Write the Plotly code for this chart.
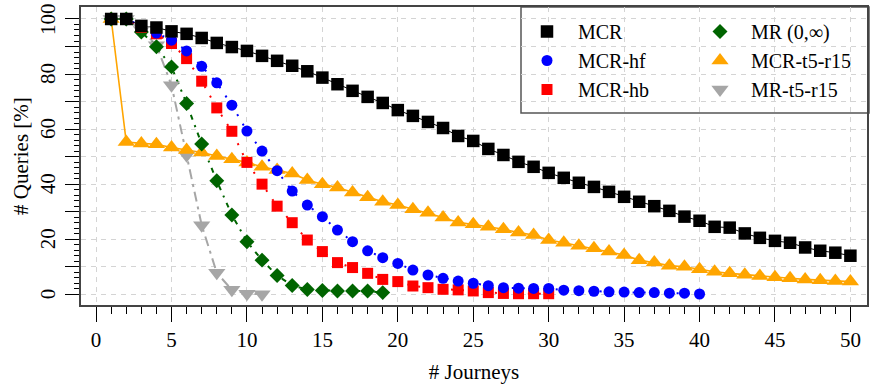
import plotly.graph_objects as go

# ---------------- data ----------------
x_mcr = list(range(1, 51))
mcr = [100, 100, 97.5, 96.9, 95.5, 94.6, 93.1, 91.3, 89.8, 88.4,
       86.6, 84.8, 83.0, 81.0, 78.7, 76.3, 73.9, 71.7, 69.5, 66.9,
       64.8, 62.6, 60.4, 57.5, 55.7, 52.8, 50.6, 48.1, 46.3, 44.1,
       42.3, 40.5, 39.0, 37.2, 35.4, 33.6, 32.0, 30.3, 28.2, 26.7,
       24.5, 24.2, 22.1, 20.5, 19.4, 18.7, 17.0, 15.8, 15.1, 14.0]

x_hf = list(range(1, 41))
mcr_hf = [100, 100, 97.5, 94.9, 92.3, 88.4, 82.8, 76.8, 68.7, 59.3,
          52.0, 44.9, 37.5, 32.4, 28.2, 23.3, 19.1, 15.8, 13.3, 11.2,
          8.8, 7.0, 5.8, 4.8, 4.0, 3.1, 2.4, 2.2, 2.1, 2.1,
          1.5, 1.3, 1.1, 0.9, 0.8, 0.6, 0.6, 0.4, 0.4, 0.1]

x_hb = list(range(1, 31))
mcr_hb = [100, 100, 97.0, 94.6, 91.1, 85.6, 77.4, 67.7, 59.2, 47.9,
          40.0, 32.0, 26.0, 19.7, 15.5, 11.5, 9.7, 7.6, 5.4, 4.6,
          3.0, 2.4, 1.8, 1.6, 1.2, 0.6, 0.3, 0.2, 0.2, 0.2]

x_mr = list(range(1, 20))
mr = [100, 100, 95.3, 89.9, 82.6, 69.3, 54.6, 41.2, 28.8, 19.1,
      12.4, 6.8, 3.2, 1.7, 1.4, 1.2, 1.2, 1.2, 0.6]

x_t5 = list(range(1, 51))
mcr_t5 = [100, 55.3, 54.8, 54.5, 53.3, 52.4, 51.5, 50.2, 49.0, 47.9,
          46.3, 45.1, 43.9, 41.5, 40.0, 38.8, 37.0, 35.2, 33.6, 32.4,
          30.9, 29.6, 27.9, 26.1, 25.4, 24.5, 23.6, 22.4, 21.5, 19.7,
          18.7, 17.6, 16.7, 15.5, 14.3, 12.4, 11.5, 10.4, 10.0, 9.1,
          8.2, 7.6, 7.1, 6.6, 6.2, 5.8, 5.4, 5.1, 4.8, 4.6]

x_mrt5 = list(range(1, 12))
mr_t5 = [100, 100, 96.0, 90.5, 75.9, 50.5, 25.1, 7.8, 1.6, 0.2, 0.0]

x_ticks = [0, 5, 10, 15, 20, 25, 30, 35, 40, 45, 50]
x_minor = [v for v in range(1, 50) if v % 5 != 0]
y_ticks = [0, 10, 20, 30, 40, 50, 60, 70, 80, 90, 100]
y_label_vals = [0, 20, 40, 60, 80, 100]
y_label_text = ["0", "20", "40", "60", "80", "100"]
y_minor = [v for v in range(2, 100, 2) if v % 10 != 0]

# name, x, y, color, symbol, size, dash, width, legend, rank
series = [
    ("MR-t5-r15", x_mrt5, mr_t5, "#a6a6a6", "triangle-down", 15, "10px,5px,3px,5px", 2, "legend2", 3),
    ("MCR-t5-r15", x_t5, mcr_t5, "#ffa500", "triangle-up", 15, "solid", 1.6, "legend2", 2),
    ("MR (0,∞)", x_mr, mr, "#006400", "diamond", 11.5, "5px,6px,2px,6px", 2, "legend2", 1),
    ("MCR-hb", x_hb, mcr_hb, "#ff0000", "square", 11, "2px,9px", 2, "legend", 3),
    ("MCR-hf", x_hf, mcr_hf, "#0000ff", "circle", 11, "2px,9px", 2, "legend", 2),
    ("MCR", x_mcr, mcr, "#000000", "square", 12.5, "solid", 1, "legend", 1),
]

fig = go.Figure()
for name, xs, ys, col, sym, sz, dash, w, leg, rk in series:
    fig.add_trace(go.Scatter(x=xs, y=ys, mode="lines", showlegend=False,
                             line=dict(color=col, width=w, dash=dash),
                             hoverinfo="skip"))
for name, xs, ys, col, sym, sz, dash, w, leg, rk in series:
    fig.add_trace(go.Scatter(x=xs, y=ys, mode="markers", name=name,
                             marker=dict(color=col, symbol=sym, size=sz,
                                         line=dict(width=0)),
                             legend=leg, legendrank=rk))

FONT = "Times New Roman"
L, R, T, B = 81, 5, 7, 85
W, H = 872, 390
pw = W - L - R
ph = H - T - B

def px_x(p):
    return (p - L) / pw

def px_y(p):
    return 1 - (p - T) / ph

fig.add_shape(type="rect", xref="paper", yref="paper",
              x0=px_x(521), x1=px_x(869), y0=px_y(113), y1=px_y(T),
              line=dict(color="#555555", width=1.5), fillcolor="white",
              layer="between")

# rotated y tick labels (reading bottom-to-top)
for v, t in zip(y_label_vals, y_label_text):
    fig.add_annotation(x=px_x(48), xref="paper", y=v, yref="y", text=t,
                       textangle=-90, showarrow=False, xanchor="center",
                       yanchor="middle", font=dict(family=FONT, size=21, color="black"))

fig.update_layout(
    width=W, height=H,
    margin=dict(l=L, r=R, t=T, b=B, autoexpand=False),
    paper_bgcolor="white", plot_bgcolor="white",
    font=dict(family=FONT, size=21, color="black"),
    legend=dict(x=px_x(516), y=px_y(12), xanchor="left", yanchor="top",
                bgcolor="rgba(0,0,0,0)", borderwidth=0, itemwidth=52,
                tracegroupgap=0, font=dict(family=FONT, size=20)),
    legend2=dict(x=px_x(689), y=px_y(12), xanchor="left", yanchor="top",
                 bgcolor="rgba(0,0,0,0)", borderwidth=0, itemwidth=52,
                 tracegroupgap=0, font=dict(family=FONT, size=20)),
    xaxis=dict(range=[-1, 51.1], tickmode="array", tickvals=x_ticks,
               automargin=False,
               ticks="outside", ticklen=15, tickwidth=1, tickcolor="black",
               showline=True, linecolor="#444444", linewidth=1.5, mirror=True,
               showgrid=True, gridcolor="#d4d4d4", griddash="5px,5px", gridwidth=1,
               zeroline=False, tickfont=dict(family=FONT, size=21),
               minor=dict(tickmode="array", tickvals=x_minor, ticks="outside",
                          ticklen=7, tickcolor="black", showgrid=False),
               title=dict(text="# Journeys", standoff=13, font=dict(family=FONT, size=21))),
    yaxis=dict(range=[-3.9, 104.35], tickmode="array", tickvals=y_ticks,
               showticklabels=False, automargin=False,
               ticks="outside", ticklen=14, tickwidth=1, tickcolor="black",
               showline=True, linecolor="#444444", linewidth=1.5, mirror=True,
               showgrid=True, gridcolor="#d4d4d4", griddash="5px,5px", gridwidth=1,
               zeroline=False,
               minor=dict(tickmode="array", tickvals=y_minor, ticks="outside",
                          ticklen=5, tickcolor="black", showgrid=False)),
)
fig.add_annotation(x=px_x(21), xref="paper", y=0.5, yref="paper",
                   text="# Queries [%]", textangle=-90, showarrow=False,
                   xanchor="center", yanchor="middle",
                   font=dict(family=FONT, size=21, color="black"))

fig.write_html("out.html", config={"displayModeBar": False},
               post_script="document.body.style.margin='0px';")
